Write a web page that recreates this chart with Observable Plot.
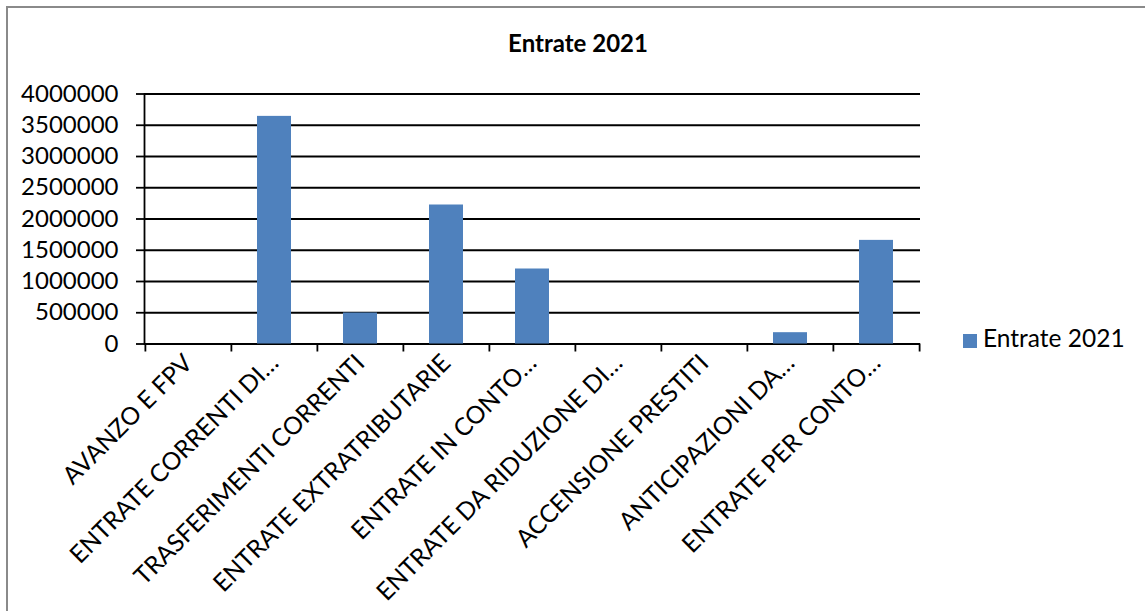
<!DOCTYPE html>
<html>
<head>
<meta charset="utf-8">
<script src="https://cdn.jsdelivr.net/npm/d3@7"></script>
<script src="https://cdn.jsdelivr.net/npm/@observablehq/plot@0.6"></script>
<style>
  html, body { margin: 0; padding: 0; background: #fff; overflow: hidden; width: 1145px; height: 611px; }
  #frame { position: absolute; left: 6px; top: 6px; width: 1200px; height: 700px;
           border-left: 2px solid #8a8a8a; border-top: 2px solid #8a8a8a; }
  #stage { position: absolute; left: 0; top: 0; width: 1145px; height: 611px;
           font-family: Lato, "Noto Sans", sans-serif; color: #000; }
  #title { position: absolute; left: 0; width: 1156px; top: 31px; text-align: center;
           font-weight: bold; font-size: 24px; line-height: 24px; }
  #legend { position: absolute; left: 963px; top: 326px; font-size: 24.5px; line-height: 24.5px; white-space: nowrap; }
  #legend .sw { position: absolute; left: 0; top: 8px; width: 14px; height: 14px; }
  #legend .lb { position: absolute; left: 20px; top: 0; }
  #chart { position: absolute; left: 0; top: 0; }
</style>
</head>
<body>
<div id="frame"></div>
<div id="stage">
  <div id="chart"></div>
  <div id="title"></div>
  <div id="legend"><span class="sw"></span><span class="lb"></span></div>
</div>
<script>
const chartTitle = "Entrate 2021";
const seriesName = "Entrate 2021";
const categories = [
  "AVANZO E FPV",
  "ENTRATE CORRENTI DI…",
  "TRASFERIMENTI CORRENTI",
  "ENTRATE EXTRATRIBUTARIE",
  "ENTRATE IN CONTO…",
  "ENTRATE DA RIDUZIONE DI…",
  "ACCENSIONE PRESTITI",
  "ANTICIPAZIONI DA…",
  "ENTRATE PER CONTO…"
];
const values = [0, 3642000, 496000, 2224000, 1200000, 0, 0, 181000, 1658000];
const yTicks = [0, 500000, 1000000, 1500000, 2000000, 2500000, 3000000, 3500000, 4000000];
const barColor = "#4f81bd";

const data = categories.map((c, i) => ({category: c, value: values[i]}));

const W = 1145, H = 611;
const mL = 144, mR = 225, mT = 93.5, mB = 267.5;
const step = (W - mL - mR) / categories.length;
const tickLen = 8 * (yTicks[yTicks.length - 1] / (H - mT - mB));

const chart = Plot.plot({
  width: W,
  height: H,
  marginLeft: mL,
  marginRight: mR,
  marginTop: mT,
  marginBottom: mB,
  style: {fontFamily: "Lato, 'Noto Sans', sans-serif", fontSize: "24px", color: "#000", background: "transparent", overflow: "visible"},
  x: {domain: categories, paddingInner: 0.6, paddingOuter: 0.3, label: null},
  y: {domain: [0, 4000000], label: null},
  marks: [
    Plot.ruleY(yTicks, {stroke: "#000", strokeWidth: 1.8}),
    Plot.barY(data, {x: "category", y: "value", fill: barColor}),
    Plot.frame({anchor: "left", stroke: "#000", strokeWidth: 1.8}),
    Plot.axisY({ticks: yTicks, tickSize: 8, tickPadding: 18, tickFormat: d => String(d), stroke: "#000", strokeWidth: 1.8, fontSize: 24}),
    Plot.axisX({tickSize: 0, tickPadding: 15, tickRotate: -45, fontSize: 24.5}),
    Plot.ruleX(categories, {x: d => d, dx: -step / 2, y1: 0, y2: -tickLen, stroke: "#000", strokeWidth: 1.8}),
    Plot.ruleX(categories.slice(-1), {x: d => d, dx: step / 2, y1: 0, y2: -tickLen, stroke: "#000", strokeWidth: 1.8})
  ]
});
document.getElementById("chart").appendChild(chart);
document.getElementById("title").textContent = chartTitle;
document.querySelector("#legend .sw").style.background = barColor;
document.querySelector("#legend .lb").textContent = seriesName;
</script>
</body>
</html>
